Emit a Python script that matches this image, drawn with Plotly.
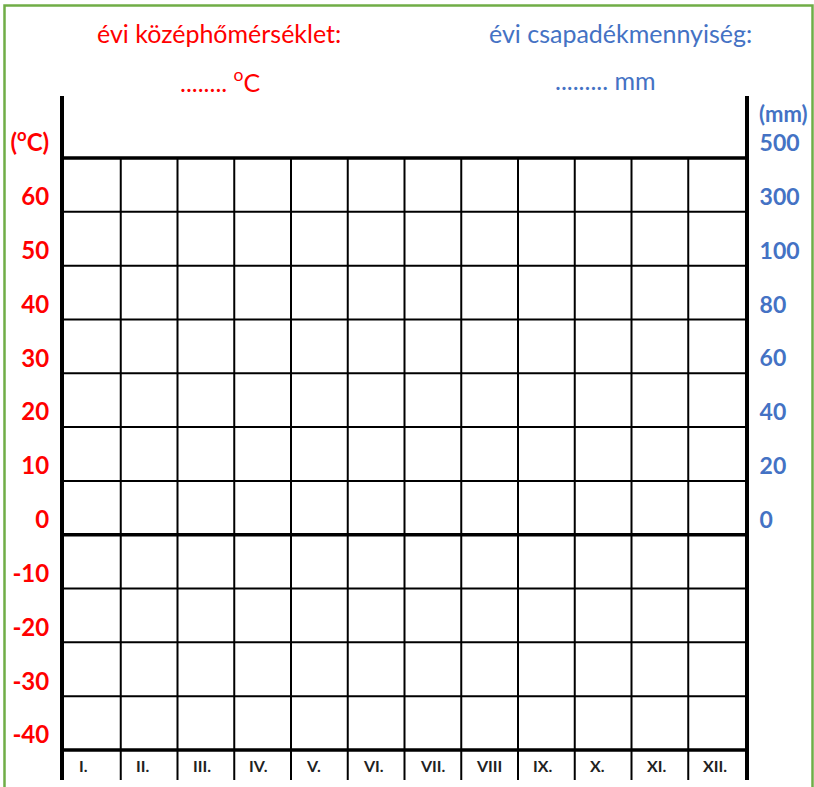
import plotly.graph_objects as go

# ---- data (blank climate diagram template) ----
months = ["I.", "II.", "III.", "IV.", "V.", "VI.", "VII.", "VIII", "IX.", "X.", "XI.", "XII."]
temp_ticks = [70, 60, 50, 40, 30, 20, 10, 0, -10, -20, -30, -40]
temp_labels = ["(<sup>o</sup>C)", "60", "50", "40", "30", "20", "10", "0", "-10", "-20", "-30", "-40"]
precip_labels = ["500", "300", "100", "80", "60", "40", "20", "0"]
precip_unit = "(mm)"
title_temp = "évi középhőmérséklet:"
blank_temp = "........ <sup>o</sup>C"
title_prec = "évi csapadékmennyiség:"
blank_prec = "......... mm"

RED = "#FF0000"
BLUE = "#4472C4"
GREEN = "#70AD47"
FONT = "Lato"

W, H = 814, 787
L, R, T, B = 64, 69, 96, 7
PW, PH = W - L - R, H - T - B

# y axis range: 10 deg per grid row
row_px = (750 - 158) / 11.0
unit_px = row_px / 10.0
y_top = temp_ticks[0] + (158 - T) / unit_px
y_bot = temp_ticks[-1] - ((H - B) - 750) / unit_px
n = len(months)


def py(pix):  # pixel y -> paper y
    return ((H - B) - pix) / PH


def px(pix):  # pixel x -> paper x
    return (pix - L) / PW


fig = go.Figure()

# horizontal grid lines
thin_x, thin_y, thick_x, thick_y = [], [], [], []
for t in temp_ticks:
    if t in (temp_ticks[0], 0, temp_ticks[-1]):
        thick_x += [0, n, None]
        thick_y += [t, t, None]
    else:
        thin_x += [0, n, None]
        thin_y += [t, t, None]
# vertical grid lines (inner column borders)
for i in range(1, n):
    thin_x += [i, i, None]
    thin_y += [temp_ticks[0], y_bot, None]

fig.add_trace(go.Scatter(x=thin_x, y=thin_y, mode="lines",
                         line=dict(color="black", width=2), hoverinfo="skip", showlegend=False))
fig.add_trace(go.Scatter(x=thick_x, y=thick_y, mode="lines",
                         line=dict(color="black", width=3.5), hoverinfo="skip", showlegend=False))
# anchor trace for the right axis
fig.add_trace(go.Scatter(x=[None], y=[None], yaxis="y2", mode="lines", showlegend=False, hoverinfo="skip"))

annotations = []
for i, m in enumerate(months):
    annotations.append(dict(x=i, y=temp_ticks[-1], xref="x", yref="y", text=m, showarrow=False,
                            xanchor="left", yanchor="middle", xshift=13, yshift=-15,
                            font=dict(family=FONT, size=16, color="#222222", weight="bold")))
annotations.append(dict(x=1, y=temp_ticks[0], xref="paper", yref="y", text=precip_unit, showarrow=False,
                        xanchor="left", yanchor="middle", xshift=12, yshift=45,
                        font=dict(family=FONT, size=22, color=BLUE, weight="bold")))
annotations.append(dict(x=px(219), y=py(33), xref="paper", yref="paper", text=title_temp, showarrow=False,
                        xanchor="center", yanchor="middle", font=dict(family=FONT, size=25, color=RED)))
annotations.append(dict(x=px(220), y=py(80), xref="paper", yref="paper", text=blank_temp, showarrow=False,
                        xanchor="center", yanchor="middle", font=dict(family=FONT, size=25, color=RED)))
annotations.append(dict(x=px(620), y=py(33), xref="paper", yref="paper", text=title_prec, showarrow=False,
                        xanchor="center", yanchor="middle", font=dict(family=FONT, size=25, color=BLUE)))
annotations.append(dict(x=px(605), y=py(80), xref="paper", yref="paper", text=blank_prec, showarrow=False,
                        xanchor="center", yanchor="middle", font=dict(family=FONT, size=25, color=BLUE)))

shapes = [dict(type="rect", xref="paper", yref="paper",
               x0=px(4.5), x1=px(812.5), y0=py(800), y1=py(5.5),
               line=dict(color=GREEN, width=2.5), fillcolor="rgba(0,0,0,0)", layer="above")]

fig.update_layout(
    width=W, height=H,
    margin=dict(l=L, r=R, t=T, b=B),
    paper_bgcolor="white", plot_bgcolor="white",
    showlegend=False,
    xaxis=dict(range=[0, n], showgrid=False, zeroline=False, showticklabels=False,
               showline=False, ticks="", fixedrange=True),
    yaxis=dict(range=[y_bot, y_top], tickmode="array", tickvals=temp_ticks, ticktext=temp_labels,
               showgrid=False, zeroline=False, showline=True, linewidth=4, linecolor="black",
               ticks="", ticklabelstandoff=6, ticklabelshift=-15,
               tickfont=dict(family=FONT, size=24, color=RED, weight="bold"), fixedrange=True),
    yaxis2=dict(range=[y_bot, y_top], overlaying="y", side="right", tickmode="array",
                tickvals=temp_ticks[:len(precip_labels)], ticktext=precip_labels,
                showgrid=False, zeroline=False, showline=True, linewidth=4, linecolor="black",
                ticks="", ticklabelstandoff=6, ticklabelshift=-15,
                tickfont=dict(family=FONT, size=23, color=BLUE, weight="bold"), fixedrange=True),
    annotations=annotations,
    shapes=shapes,
)

fig.write_html("out.html", config={"displayModeBar": False},
               post_script="document.body.style.margin='0';document.body.style.overflow='hidden';")
